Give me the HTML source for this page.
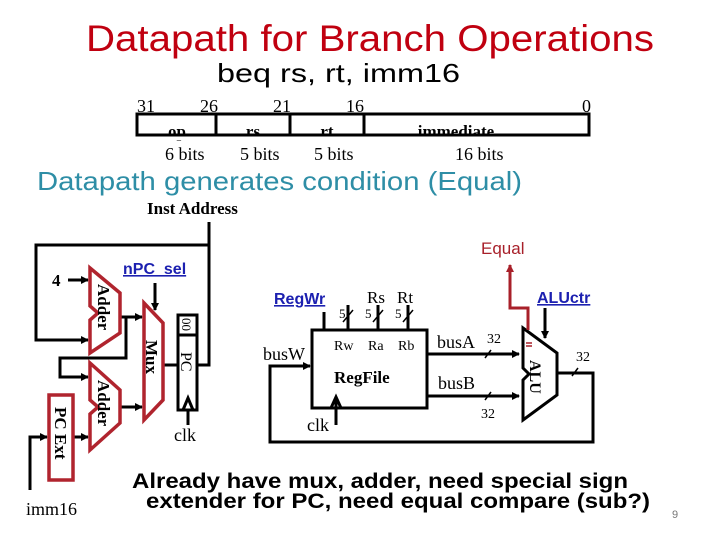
<!DOCTYPE html>
<html><head><meta charset="utf-8"><style>body{margin:0;background:#fff}svg{display:block}</style></head><body>
<svg width="720" height="540" viewBox="0 0 720 540" xmlns="http://www.w3.org/2000/svg">
<defs><marker id="a" markerWidth="8" markerHeight="8" refX="7" refY="4" orient="auto" markerUnits="userSpaceOnUse"><path d="M0,0 L8,4 L0,8z" fill="#000"/></marker>
<marker id="r" markerWidth="8" markerHeight="8" refX="7" refY="4" orient="auto" markerUnits="userSpaceOnUse"><path d="M0,0 L8,4 L0,8z" fill="#a8202a"/></marker></defs>
<text x="370" y="51" font-family="Liberation Sans" font-size="37" fill="#c00010" text-anchor="middle" textLength="568" lengthAdjust="spacingAndGlyphs">Datapath for Branch Operations</text>
<text x="217" y="82" font-family="Liberation Sans" font-size="26" textLength="243" lengthAdjust="spacingAndGlyphs">beq   rs, rt, imm16</text>
<g font-family="Liberation Serif" font-size="18">
<text x="137" y="112">31</text><text x="200" y="112">26</text><text x="273" y="112">21</text><text x="346" y="112">16</text><text x="582" y="112">0</text>
<text x="165" y="160">6 bits</text><text x="240" y="160">5 bits</text><text x="314" y="160">5 bits</text><text x="455" y="160">16 bits</text></g>
<g font-family="Liberation Serif" font-size="17" font-weight="bold" text-anchor="middle">
<text x="177" y="137">op</text><text x="253" y="137">rs</text><text x="327" y="137">rt</text><text x="456" y="137">immediate</text></g>
<rect x="137" y="135" width="452" height="5" fill="#fff"/>
<path d="M137,114V135H589V114ZM216,114V135M290,114V135M364,114V135" fill="none" stroke="#000" stroke-width="3"/>
<text x="37" y="190" font-family="Liberation Sans" font-size="26" fill="#2e8ea6" textLength="485" lengthAdjust="spacingAndGlyphs">Datapath generates condition (Equal)</text>
<text x="147" y="214" font-family="Liberation Serif" font-size="17" font-weight="bold">Inst Address</text>
<g fill="none" stroke="#000" stroke-width="3">
<path d="M197,365H209V222"/><path d="M209,245H36V340H88" marker-end="url(#a)"/>
<path d="M68,280H88" marker-end="url(#a)"/>
<path d="M120,317H142" marker-end="url(#a)"/>
<path d="M126,317V358H60V377H88" marker-end="url(#a)"/>
<path d="M120,407H142" marker-end="url(#a)"/>
<path d="M73,437H88" marker-end="url(#a)"/>
<path d="M30,490V437H47" marker-end="url(#a)"/>
<path d="M155,283V310" marker-end="url(#a)"/>
<path d="M163,365H178"/>
<path d="M188,425V408"/>
<rect x="178" y="315" width="19" height="95" fill="#fff"/><path d="M178,335H197"/>
<path d="M183,410L188,398L193,410"/>
<rect x="312" y="330" width="115" height="78" fill="#fff"/>
<path d="M331,408L336,397L341,408M336,425V400"/>
<path d="M324,312V330M348,305V330M378,305V330M408,305V330"/>
<path d="M427,354H519" marker-end="url(#a)"/><path d="M427,396H519" marker-end="url(#a)"/>
<path d="M557,373H593V442H270V366H310" marker-end="url(#a)"/>
<path d="M545,308V338" marker-end="url(#a)"/>
<path d="M523,328L557,353V395L523,420V380L529,374L523,368Z" fill="#fff"/>
</g>
<g fill="none" stroke="#000" stroke-width="1.5">
<path d="M343,322L353,310M373,322L383,310M403,322L413,310M485,358L491,350M485,400L491,392M572,376L578,368"/>
</g>
<path d="M528,330V308H510V265" fill="none" stroke="#a8202a" stroke-width="3" marker-end="url(#r)"/>
<path d="M526,343H532M526,346H532" stroke="#a8202a" stroke-width="1.5"/>
<g fill="#fff" stroke="#b0242e" stroke-width="3.5">
<path d="M90,268L120,293V333L90,353V320L98,313L90,306Z"/>
<path d="M90,363L120,390V423L90,450V414L98,407L90,400Z"/>
<path d="M144,303L163,323V400L144,420Z"/>
<rect x="49" y="395" width="24" height="85"/>
</g>
<g font-family="Liberation Serif" font-weight="bold" font-size="17">
<text transform="translate(98,284) rotate(90)">Adder</text>
<text transform="translate(98,380) rotate(90)">Adder</text>
<text transform="translate(146,340) rotate(90)">Mux</text>
<text transform="translate(55,407) rotate(90)">PC Ext</text>
<text x="52" y="286">4</text>
<text x="334" y="383">RegFile</text>
</g>
<g font-family="Liberation Serif" font-size="16">
<text transform="translate(182,318) rotate(90)" font-size="13">00</text>
<text transform="translate(181,352) rotate(90)">PC</text>
<text transform="translate(530,360) rotate(90)" font-weight="bold">ALU</text>
<text x="174" y="441" font-size="18">clk</text>
<text x="307" y="431" font-size="18">clk</text>
<text x="263" y="360" font-size="18">busW</text>
<text x="26" y="515" font-size="18">imm16</text>
<text x="367" y="303" font-size="17">Rs</text><text x="397" y="303" font-size="17">Rt</text>
<text x="339" y="318" font-size="13">5</text><text x="365" y="318" font-size="13">5</text><text x="395" y="318" font-size="13">5</text>
<text x="334" y="350" font-size="14">Rw</text><text x="368" y="350" font-size="14">Ra</text><text x="398" y="350" font-size="14">Rb</text>
<text x="437" y="348" font-size="18">busA</text><text x="487" y="343" font-size="14">32</text>
<text x="438" y="389" font-size="18">busB</text><text x="481" y="418" font-size="14">32</text>
<text x="576" y="361" font-size="14">32</text>
</g>
<g font-family="Liberation Sans" font-weight="bold" font-size="16" fill="#1c20b0" text-decoration="underline">
<text x="123" y="274">nPC_sel</text><text x="274" y="304">RegWr</text><text x="537" y="303">ALUctr</text></g>
<text x="481" y="254" font-family="Liberation Sans" font-size="17" fill="#a8202a">Equal</text>
<g font-family="Liberation Sans" font-weight="bold" font-size="21" text-anchor="middle">
<text x="380" y="488" textLength="496" lengthAdjust="spacingAndGlyphs">Already have mux, adder, need special sign</text>
<text x="398" y="508" textLength="504" lengthAdjust="spacingAndGlyphs">extender for PC, need equal compare (sub?)</text></g>
<text x="672" y="518" font-family="Liberation Sans" font-size="11" fill="#777">9</text>
</svg>
</body></html>
